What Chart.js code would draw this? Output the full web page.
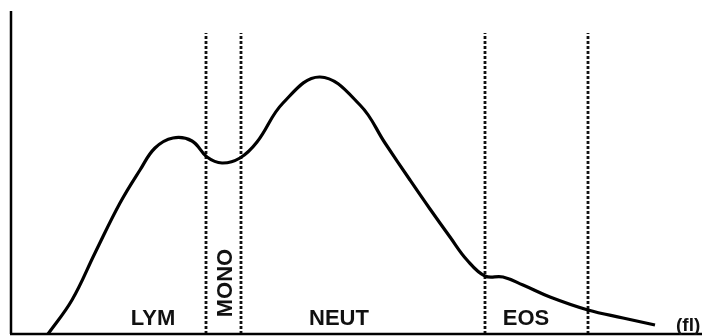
<!DOCTYPE html>
<html>
<head>
<meta charset="utf-8">
<script src="https://cdn.jsdelivr.net/npm/chart.js@4/dist/chart.umd.min.js"></script>
<style>
	html, body { margin: 0; padding: 0; background: #fff; }
	#wrap { width: 702px; height: 336px; position: relative; }
</style>
</head>
<body>
<div id="wrap"><canvas id="histChart"></canvas></div>
<script>
// Volume distribution curve (x = channel, y = relative count)
const curveX = [38, 62, 85, 110, 130, 145, 163, 182, 197, 212, 230, 247, 273, 310, 350, 375, 400, 420, 440, 457, 475, 493, 513, 540, 578, 613, 645];
const curveY = [0, 34, 81, 131, 164, 186, 196, 193, 177, 171, 176, 192, 231, 257, 229, 191, 154, 125, 97, 74, 58, 57, 49, 37, 24, 16, 9];

// Discriminator positions (dotted separators)
const separatorX = [196, 231, 475, 578];
const separatorTop = 301;

// Region labels
const regionLabels = ['LYM', 'MONO', 'NEUT', 'EOS'];
const regionLabelX = [143, 214, 329, 516];
const unitLabel = '(fl)';
const unitLabelX = 666;

const xMax = 692;
const yMax = 323;

document.addEventListener('DOMContentLoaded', function() {

	const datasets = [{
		label: 'curve',
		data: curveX.map((x, i) => ({ x: x, y: curveY[i] })),
		borderColor: '#000',
		borderWidth: 3.2,
		pointRadius: 0,
		tension: 0.4,
		fill: false
	}];
	separatorX.forEach(x => {
		datasets.push({
			data: [{ x: x, y: 0 }, { x: x, y: separatorTop }],
			borderColor: '#111',
			borderWidth: 2.8,
			borderDash: [3, 2],
			pointRadius: 0,
			fill: false
		});
	});

	// --- axes + labels drawn off the scales ---
	const annotate = {
		id: 'annotate',
		afterDatasetsDraw(chart) {
			const ctx = chart.ctx;
			const xs = chart.scales.x, ys = chart.scales.y;
			const area = chart.chartArea;
			ctx.save();
			ctx.strokeStyle = '#000';
			ctx.lineWidth = 2.5;
			ctx.beginPath();
			ctx.moveTo(area.left + 1, area.top);
			ctx.lineTo(area.left + 1, area.bottom);
			ctx.moveTo(area.left, area.bottom);
			ctx.lineTo(area.right, area.bottom);
			ctx.stroke();

			ctx.fillStyle = '#111';
			ctx.font = 'bold 22px "Liberation Sans", Arial, sans-serif';
			ctx.textBaseline = 'alphabetic';
			regionLabels.forEach((t, i) => {
				const px = xs.getPixelForValue(regionLabelX[i]);
				const py = ys.getPixelForValue(9);
				if (t === 'MONO') {
					ctx.save();
					ctx.translate(px + 8, ys.getPixelForValue(51));
					ctx.rotate(-Math.PI / 2);
					ctx.textAlign = 'center';
					ctx.fillText(t, 0, 0);
					ctx.restore();
				} else {
					ctx.textAlign = 'center';
					ctx.fillText(t, px, py);
				}
			});
			ctx.font = 'bold 19px "Liberation Sans", Arial, sans-serif';
			ctx.textAlign = 'left';
			ctx.fillText(unitLabel, xs.getPixelForValue(unitLabelX), ys.getPixelForValue(3));
			ctx.restore();
		}
	};

	new Chart(document.getElementById('histChart'), {
		type: 'line',
		data: { datasets: datasets },
		options: {
			responsive: true,
			maintainAspectRatio: false,
			animation: false,
			layout: { padding: { left: 10, top: 11, right: 0, bottom: 2 } },
			plugins: { legend: { display: false }, tooltip: { enabled: false } },
			scales: {
				x: { type: 'linear', min: 0, max: xMax, display: false },
				y: { min: 0, max: yMax, display: false }
			}
		},
		plugins: [annotate]
	});
});
</script>
</body>
</html>
